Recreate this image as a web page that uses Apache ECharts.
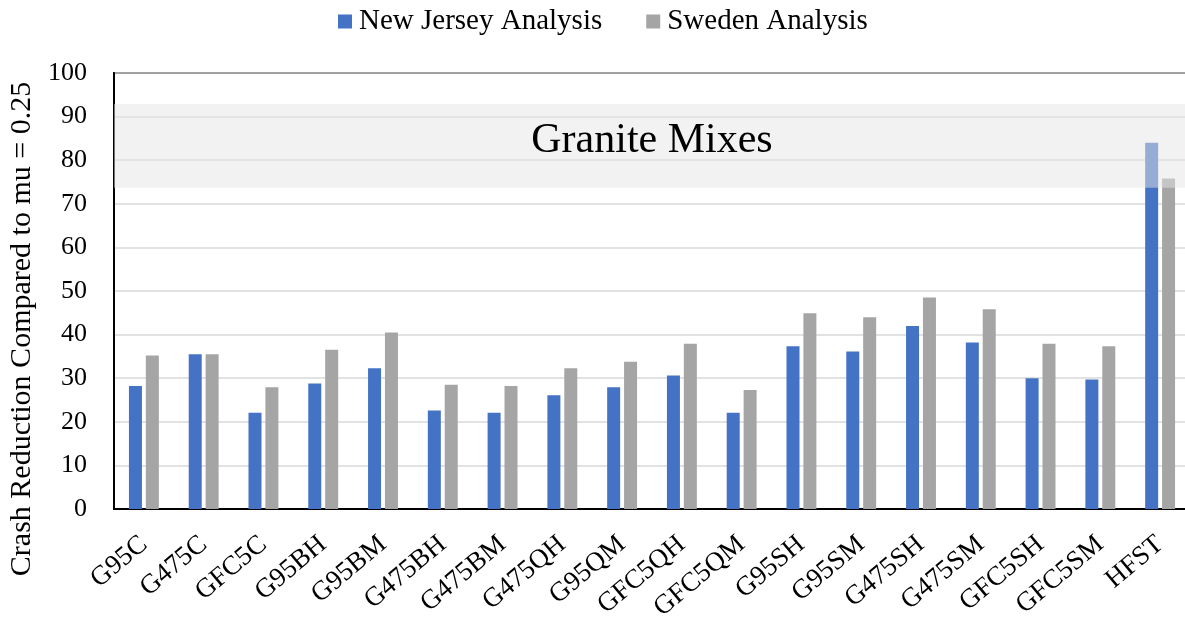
<!DOCTYPE html>
<html>
<head>
<meta charset="utf-8">
<script src="https://cdn.jsdelivr.net/npm/echarts@6/dist/echarts.min.js"></script>
<style>html,body{margin:0;padding:0;background:#fff;overflow:hidden;}#c{width:1185px;height:625px;}</style>
</head>
<body>
<div id="c"></div>
<script>
const categories = ['G95C','G475C','GFC5C','G95BH','G95BM','G475BH','G475BM','G475QH','G95QM','GFC5QH','GFC5QM','G95SH','G95SM','G475SH','G475SM','GFC5SH','GFC5SM','HFST'];
const newJersey = [28.2,35.5,22.1,28.8,32.3,22.6,22.1,26.1,27.9,30.6,22.1,37.3,36.1,42.0,38.2,30.0,29.7,84.0];
const sweden = [35.2,35.5,27.9,36.5,40.5,28.5,28.2,32.3,33.8,37.9,27.3,44.9,44.0,48.5,45.8,37.9,37.3,75.8];
const bandRange = [73.7, 92.9];
const bandLabel = 'Granite Mixes';
const seriesNames = ['New Jersey Analysis','Sweden Analysis'];
const yTitle = 'Crash Reduction Compared to mu = 0.25';

const serif = '"Liberation Serif", "DejaVu Serif", serif';
const chart = echarts.init(document.getElementById('c'));
chart.setOption({
  animation: false,
  backgroundColor: '#fff',
  legend: {
    top: 2, left: 333,
    icon: 'rect',
    itemWidth: 14, itemHeight: 14, itemGap: 44,
    textStyle: { fontFamily: serif, fontSize: 29, color: '#000', padding: [0, 0, 0, 2] },
    data: seriesNames
  },
  grid: { left: 114, top: 73, height: 436, width: 1076, outerBoundsMode: 'none', containLabel: false, show: true, borderColor: '#000', borderWidth: 2 },
  xAxis: {
    type: 'category', data: categories,
    axisLine: { lineStyle: { color: '#000', width: 2 } },
    axisTick: { show: false },
    axisLabel: { rotate: 40, margin: 32, fontFamily: serif, fontSize: 27, color: '#000', interval: 0 }
  },
  yAxis: {
    type: 'value', min: 0, max: 100, interval: 10,
    name: yTitle, nameLocation: 'middle', nameGap: 68, nameRotate: 90,
    nameTextStyle: { fontFamily: serif, fontSize: 30, color: '#000', padding: [0, 76, 0, 0] },
    axisLine: { show: true, lineStyle: { color: '#000', width: 2 } },
    axisTick: { show: false },
    axisLabel: { margin: 27, fontFamily: serif, fontSize: 26, color: '#000' },
    splitLine: { lineStyle: { color: '#d9d9d9', width: 1.5 } }
  },
  series: [
    { name: seriesNames[0], type: 'bar', data: newJersey, barWidth: 13, barGap: '30%', itemStyle: { color: '#4472c4' }, z: 2 },
    { name: seriesNames[1], type: 'bar', data: sweden, barWidth: 13, barGap: '30%', itemStyle: { color: '#a5a5a5' }, z: 2 },
    { name: 'band', type: 'line', data: [], z: 10, silent: true,
      markArea: {
        silent: true, z: 10,
        itemStyle: { color: 'rgba(230,230,230,0.5)' },
        label: { show: true, position: 'inside', offset: [0, -5], fontFamily: serif, fontSize: 42, color: '#000' },
        data: [[{ yAxis: bandRange[0], name: bandLabel }, { yAxis: bandRange[1] }]]
      }
    }
  ]
});
</script>
</body>
</html>
